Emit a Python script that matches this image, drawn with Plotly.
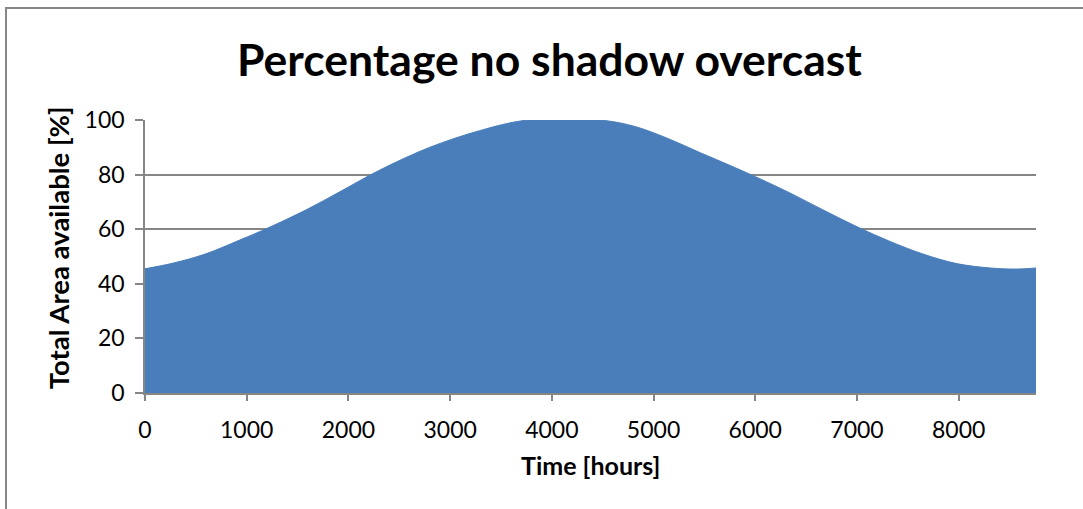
import plotly.graph_objects as go

# Envelope of the hourly share of unshaded area over one year
hours = [0, 280, 600, 930, 1200, 1590, 1920, 2310, 2800, 3290, 3720, 4000,
         4470, 4800, 5130, 5460, 5780, 6050, 6340, 6670, 7000, 7320, 7650,
         7980, 8310, 8570, 8760]
area_pct = [45.5, 47.6, 51.0, 56.0, 60.3, 67.2, 73.8, 81.7, 90.0, 96.1, 99.8, 100.0,
            100.0, 97.8, 93.4, 88.0, 82.9, 78.4, 73.3, 67.0, 60.9, 55.6, 50.9,
            47.4, 45.8, 45.4, 45.8]

x_ticks = [0, 1000, 2000, 3000, 4000, 5000, 6000, 7000, 8000]
y_ticks = [0, 20, 40, 60, 80, 100]

W, H = 1083, 509
L, R, T, B = 145, 1036, 120, 392.7
PW, PH = R - L, B - T


def px_x(p):
    return (p - L) / PW


def px_y(p):
    return (B - p) / PH


FONT = "Lato"
GRID = "#868686"
FILL = "#4A7EBB"

fig = go.Figure()
fig.add_trace(go.Scatter(
    x=hours, y=area_pct, mode="lines", fill="tozeroy",
    line=dict(color=FILL, width=1, shape="spline", smoothing=1.0),
    fillcolor=FILL, showlegend=False, hoverinfo="x+y",
))

fig.update_layout(
    width=W, height=H,
    margin=dict(l=L, r=W - R, t=T, b=H - B, pad=0),
    paper_bgcolor="white", plot_bgcolor="white",
    font=dict(family=FONT, color="black"),
    showlegend=False,
    xaxis=dict(
        range=[0, 8760], tickvals=x_ticks, ticktext=[str(v) for v in x_ticks],
        showgrid=False, zeroline=False, showline=True, linecolor=GRID, linewidth=1.5,
        ticks="outside", ticklen=6, tickcolor=GRID, tickwidth=1.5,
        ticklabelstandoff=10,
        tickfont=dict(size=23, family=FONT), fixedrange=True,
    ),
    yaxis=dict(
        range=[0, 100], tickvals=y_ticks, ticktext=[str(v) for v in y_ticks],
        showgrid=True, gridcolor=GRID, gridwidth=1.5, zeroline=False,
        showline=True, linecolor=GRID, linewidth=1.5,
        ticks="outside", ticklen=8, tickcolor=GRID, tickwidth=1.5,
        ticklabelstandoff=6,
        tickfont=dict(size=23, family=FONT), fixedrange=True,
    ),
    shapes=[dict(
        type="rect", xref="paper", yref="paper",
        x0=px_x(6), x1=px_x(W + 20), y0=px_y(H + 20), y1=px_y(8),
        line=dict(color="#878787", width=2), fillcolor="rgba(0,0,0,0)", layer="below",
    )],
    annotations=[
        dict(text="<b>Percentage no shadow overcast</b>", xref="paper", yref="paper",
             x=px_x(549), y=px_y(59), xanchor="center", yanchor="middle",
             showarrow=False, font=dict(size=44.5, family=FONT, color="black")),
        dict(text="<b>Time [hours]</b>", xref="paper", yref="paper",
             x=px_x(590), y=px_y(465), xanchor="center", yanchor="middle",
             showarrow=False, font=dict(size=25, family=FONT, color="black")),
        dict(text="<b>Total Area available [%]</b>", xref="paper", yref="paper",
             x=px_x(58), y=px_y(248), xanchor="center", yanchor="middle", textangle=-90,
             showarrow=False, font=dict(size=27.5, family=FONT, color="black")),
    ],
)

fig.write_html("out.html")
